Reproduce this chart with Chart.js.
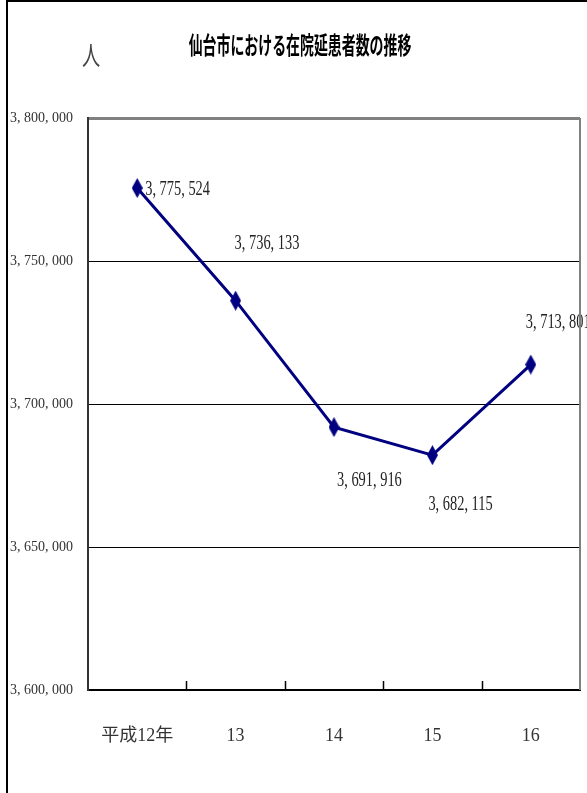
<!DOCTYPE html>
<html>
<head>
<meta charset="utf-8">
<script src="https://cdn.jsdelivr.net/npm/chart.js@4/dist/chart.umd.min.js"></script>
<style>
  html, body { margin:0; padding:0; background:#fff; }
  #wrap { position:relative; width:587px; height:793px; }
</style>
</head>
<body>
<div id="wrap"><canvas id="c" width="587" height="793"></canvas></div>
<script>
// chart data
var chartTitle = '仙台市における在院延患者数の推移';
var unitLabel = '人';
var years = ['平成12年', '13', '14', '15', '16'];
var patients = [3775524, 3736133, 3691916, 3682115, 3713801];
var yTicks = [3600000, 3650000, 3700000, 3750000, 3800000];

// label placement (px offsets from each point)
var labelDx = [8, -1, 3, -4, -5];
var labelDy = [2, -57, 54, 50, -42];

function fmt(v) {
  return Number(v).toLocaleString('en-US').replace(/,/g, ', ');
}

// tall diamond marker
var mk = document.createElement('canvas');
mk.width = 11; mk.height = 20;
(function() {
  var g = mk.getContext('2d');
  g.fillStyle = '#000080';
  g.beginPath();
  g.moveTo(5.5, 0); g.lineTo(11, 10); g.lineTo(5.5, 20); g.lineTo(0, 10);
  g.closePath(); g.fill();
})();

function condensedText(ctx, txt, x, y, font, sx, align, color) {
  ctx.save();
  ctx.font = font;
  ctx.fillStyle = color;
  ctx.textBaseline = 'middle';
  ctx.textAlign = align;
  ctx.translate(x, y);
  ctx.scale(sx, 1);
  ctx.fillText(txt, 0, 0);
  ctx.restore();
}

var decor = {
  id: 'decor',
  afterDraw: function(chart) {
    var ctx = chart.ctx, a = chart.chartArea;
    var xs = chart.scales.x;
    // page frame
    ctx.save();
    ctx.strokeStyle = '#000';
    ctx.lineWidth = 2;
    ctx.beginPath();
    ctx.moveTo(7, 793); ctx.lineTo(7, 1); ctx.lineTo(587, 1);
    ctx.stroke();
    // right edge of plot
    ctx.strokeStyle = '#808080';
    ctx.lineWidth = 2;
    ctx.beginPath();
    ctx.moveTo(a.right, a.top); ctx.lineTo(a.right, a.bottom);
    ctx.stroke();
    // inner tick marks on category axis
    ctx.strokeStyle = '#000';
    ctx.lineWidth = 1.5;
    for (var i = 1; i < years.length; i++) {
      var bx = Math.round((xs.getPixelForValue(i - 1) + xs.getPixelForValue(i)) / 2) + 0.5;
      ctx.beginPath();
      ctx.moveTo(bx, a.bottom - 9); ctx.lineTo(bx, a.bottom);
      ctx.stroke();
    }
    ctx.restore();
    // title and unit
    condensedText(ctx, chartTitle, 300, 45, 'bold 24px "Noto Sans CJK JP"', 0.58, 'center', '#000');
    condensedText(ctx, unitLabel, 91, 55, '26px "Noto Sans CJK JP"', 0.7, 'center', '#444');
  },
  afterDatasetsDraw: function(chart) {
    var ctx = chart.ctx;
    var meta = chart.getDatasetMeta(0);
    meta.data.forEach(function(pt, i) {
      condensedText(ctx, fmt(patients[i]), pt.x + labelDx[i], pt.y + labelDy[i],
        '20px "Liberation Serif"', 0.72, 'left', '#222');
    });
  }
};

new Chart(document.getElementById('c'), {
  type: 'line',
  data: {
    labels: years,
    datasets: [{
      data: patients,
      borderColor: '#000080',
      backgroundColor: '#000080',
      borderWidth: 3,
      tension: 0,
      pointStyle: mk,
      fill: false
    }]
  },
  options: {
    responsive: false,
    animation: false,
    layout: { padding: { top: 118, right: 5, left: 0, bottom: 0 } },
    plugins: {
      legend: { display: false },
      title: { display: false },
      tooltip: { enabled: false }
    },
    scales: {
      x: {
        offset: true,
        grid: { display: false, drawTicks: false },
        border: { color: '#000', width: 2 },
        ticks: {
          padding: 35,
          color: '#333',
          font: { family: '"Liberation Serif", "Noto Sans CJK JP"', size: 18 }
        },
        afterFit: function(s) { s.height = 103; }
      },
      y: {
        min: 3600000,
        max: 3800000,
        afterBuildTicks: function(s) {
          s.ticks = yTicks.map(function(v) { return { value: v }; });
        },
        grid: {
          drawTicks: false,
          color: function(c) { return c.tick && c.tick.value === 3800000 ? '#808080' : '#000'; },
          lineWidth: function(c) { return c.tick && c.tick.value === 3800000 ? 3 : 1; }
        },
        border: { color: '#333', width: 2 },
        ticks: {
          padding: 15,
          color: '#333',
          font: { family: '"Liberation Serif"', size: 14 },
          callback: function(v) { return fmt(v); }
        },
        afterFit: function(s) { s.width = 88; }
      }
    }
  },
  plugins: [decor]
});
</script>
</body>
</html>
